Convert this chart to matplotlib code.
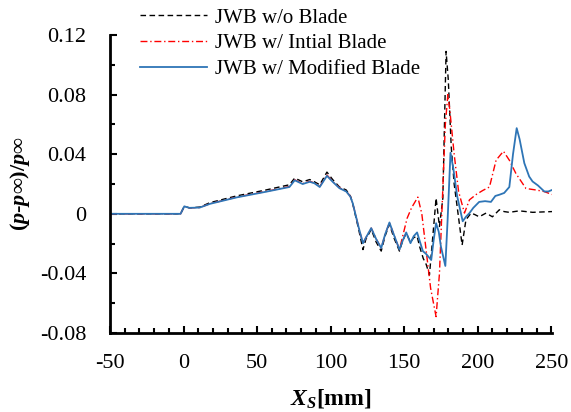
import numpy as np
import matplotlib.pyplot as plt
from matplotlib.ticker import MultipleLocator

plt.rcParams['font.family'] = ['Liberation Serif', 'DejaVu Serif']
plt.rcParams['mathtext.fontset'] = 'custom'
plt.rcParams['mathtext.rm'] = 'Liberation Serif:bold'
plt.rcParams['mathtext.it'] = 'Liberation Serif:italic:bold'
plt.rcParams['axes.unicode_minus'] = False

# -----------------------------
# Data
# -----------------------------
x_blue = [-50, -2, 0.5, 4, 11, 18, 36, 56, 72, 75.6, 81, 85.8, 89, 92.6, 97.5, 101.4,
          106, 110.6, 113.4, 115, 119.2, 122, 124, 127.6, 131, 134.4, 137, 140, 143,
          146.8, 149, 151.4, 154.3, 156.5, 158.8, 160.5, 162.7, 165, 168.4, 170, 171.7,
          173.5, 175, 178, 179.5, 181.5, 183.5, 186, 189.8, 192, 194.4, 197, 201, 205,
          209, 212, 214.7, 218, 221.5, 224, 226.5, 228.5, 231.7, 235, 237.3, 241, 245.3,
          248, 250.5]
y_blue = [0, 0, 0.005, 0.004, 0.0042, 0.0067, 0.011, 0.0148, 0.018, 0.0225, 0.020, 0.0215,
          0.0205, 0.018, 0.0255, 0.0215, 0.0172, 0.015, 0.0116, 0.0072, -0.0096, -0.0197,
          -0.016, -0.0096, -0.017, -0.023, -0.014, -0.0058, -0.014, -0.024, -0.018,
          -0.0125, -0.0197, -0.015, -0.0125, -0.018, -0.025, -0.027, -0.031, -0.018,
          -0.0063, -0.012, -0.022, -0.035, -0.005, 0.041, 0.03, 0.012, -0.005, -0.002,
          0.0005, 0.004, 0.008, 0.0085, 0.008, 0.012, 0.0128, 0.014, 0.018, 0.04, 0.0575,
          0.05, 0.034, 0.025, 0.0217, 0.019, 0.015, 0.015, 0.016]

x_black = [-50, -2, 0.5, 4, 11, 18, 36, 56, 72, 75.6, 81, 85.8, 89, 92.6, 97.5, 101.4,
           106, 110.6, 113.4, 115, 119.2, 122, 124, 127.6, 131, 134.4, 137, 140, 143,
           146.8, 149, 151.4, 154.3, 156.5, 158.8, 160.5, 163, 165, 167.2, 169.5, 171.7,
           174, 176.3, 178.5, 180, 182, 184, 186, 189.4, 192, 195.5, 198, 201, 205.7,
           210, 214.7, 218, 221.5, 228.3, 237.3, 250.5]
y_black = [0, 0, 0.005, 0.004, 0.0045, 0.0075, 0.012, 0.016, 0.0195, 0.024, 0.0215, 0.023,
           0.0215, 0.0195, 0.028, 0.023, 0.018, 0.016, 0.012, 0.007, -0.011, -0.024,
           -0.017, -0.0105, -0.019, -0.025, -0.015, -0.007, -0.016, -0.025, -0.018,
           -0.013, -0.019, -0.016, -0.015, -0.022, -0.03, -0.034, -0.041, -0.015, 0.0105,
           -0.0085, 0.0105, 0.109, 0.09, 0.045, 0.02, 0.005, -0.021, -0.004, 0.0005,
           -0.0005, -0.002, 0.0005, -0.002, 0.0027, 0.0015, 0.001, 0.002, 0.001, 0.0015]

x_red = [-50, -2, 0.5, 4, 11, 18, 36, 56, 72, 75.6, 81, 85.8, 89, 92.6, 97.5, 101.4,
         106, 110.6, 113.4, 115, 119.2, 122, 124, 127.6, 131, 134.4, 137, 140, 143,
         146.8, 149, 152, 155, 159.3, 162, 165, 168, 171.7, 174, 176, 178, 179.7, 181,
         184, 187, 191, 194.4, 199, 203.5, 208, 212.5, 217.5, 221.5, 226, 232.8, 239.6,
         245, 250.5]
y_red = [0, 0, 0.005, 0.004, 0.0042, 0.0068, 0.0112, 0.015, 0.0183, 0.0228, 0.0203, 0.0218,
         0.0207, 0.0183, 0.026, 0.0218, 0.0175, 0.0152, 0.0118, 0.0072, -0.0096, -0.02,
         -0.016, -0.0096, -0.017, -0.023, -0.014, -0.006, -0.014, -0.024, -0.015,
         -0.003, 0.004, 0.0112, 0.0, -0.025, -0.05, -0.069, -0.04, 0.01, 0.06, 0.080,
         0.07, 0.04, 0.015, 0.0005, 0.0094, 0.013, 0.0157, 0.018, 0.036, 0.042, 0.036,
         0.027, 0.017, 0.016, 0.015, 0.013]

# -----------------------------
# Figure
# -----------------------------
fig = plt.figure(figsize=(5.71, 4.12), dpi=100)
ax = fig.add_axes([0.1926, 0.1917, 0.7741, 0.7233])

ax.plot(x_black, y_black, color="black", lw=1.0, ls=(0, (4, 2.5)), label="JWB w/o Blade")
ax.plot(x_red, y_red, color="#ff0000", lw=1.0, ls=(0, (5, 2, 1, 2)), label="JWB w/ Intial Blade")
ax.plot(x_blue, y_blue, color="#2e75b6", lw=1.3, label="JWB w/ Modified Blade")

ax.set_xlim(-50, 250.5)
ax.set_ylim(-0.08, 0.12)
ax.xaxis.set_major_locator(MultipleLocator(50))
ax.xaxis.set_minor_locator(MultipleLocator(10))
ax.yaxis.set_major_locator(MultipleLocator(0.04))
ax.yaxis.set_minor_locator(MultipleLocator(0.02))
ax.yaxis.set_major_formatter(plt.FuncFormatter(lambda v, p: "0" if abs(v) < 1e-9 else f"{v:.2f}"))

for side in ["top", "right"]:
    ax.spines[side].set_visible(False)
for side in ["left", "bottom"]:
    ax.spines[side].set_linewidth(2.0)

ax.tick_params(which="both", direction="in", width=1.5, labelsize=16)
ax.tick_params(axis="x", which="both", pad=15)
ax.tick_params(axis="y", which="both", pad=17)
ax.tick_params(which="major", length=5)
ax.tick_params(which="minor", length=3.5)

ax.set_xlabel(r"$X_S$[mm]", fontsize=17, fontweight="bold", labelpad=10)
ax.set_ylabel(r"$(p$-$p$∞$)$/$p$∞", fontsize=16, fontweight="bold", labelpad=6)

fig.legend(loc="upper left", bbox_to_anchor=(140 / 571, 1 - 8 / 412), frameon=False,
           fontsize=15, handlelength=3.2, handletextpad=0.4, labelspacing=0.3,
           borderpad=0, borderaxespad=0)

fig.savefig("out.png", dpi=100)
